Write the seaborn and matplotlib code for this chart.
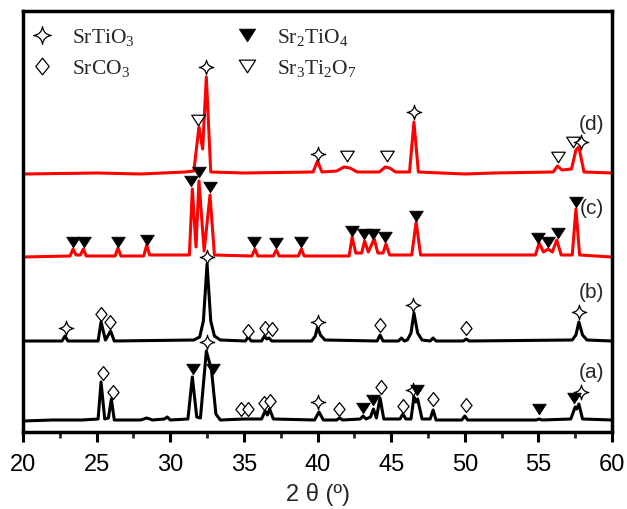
import numpy as np
import pandas as pd
import seaborn as sns
import matplotlib.pyplot as plt
from matplotlib.path import Path
from matplotlib.lines import Line2D

# XRD traces (2theta, intensity above own baseline, arbitrary units)
a_x = [20, 22, 24, 25.1, 25.3, 25.55, 25.8, 26.0, 26.2, 28.0, 28.4, 28.8, 29.6, 29.8, 30.0,
       31.2, 31.5, 31.8, 32.05, 32.45, 32.8, 33.1, 33.4, 35.0, 36.2, 36.45, 36.6, 36.75, 37.0,
       39.8, 40.1, 40.4, 41.3, 41.5, 41.7, 42.9, 43.1, 43.3, 43.6, 43.8, 44.0, 44.25, 44.5,
       45.6, 45.8, 46.0, 46.35, 46.55, 46.68, 46.8, 47.1, 47.65, 47.85, 48.05, 49.8, 50.0, 50.2,
       54.85, 55.05, 55.25, 57.2, 57.5, 57.6, 57.75, 58.0, 60]
a_y = [1, 2, 2, 3, 40, 3, 4, 23, 2, 2, 4, 2, 3, 5, 2,
       3, 45, 5, 4, 71, 52, 8, 2, 3, 3, 11, 7, 13, 3,
       2, 10, 2, 2, 4, 2, 3, 6, 3, 5, 13, 4, 24, 3,
       3, 8, 3, 3, 25, 20, 23, 3, 3, 12, 2, 2, 6, 2,
       2, 3, 2, 3, 15, 13, 18, 3, 2]

b_x = [20, 22.65, 22.85, 23.05, 25.1, 25.3, 25.6, 25.95, 26.2, 31.6, 32.0, 32.25, 32.5, 32.75,
       33.0, 33.4, 35.1, 35.3, 35.5, 36.2, 36.4, 36.55, 36.7, 36.9, 39.6, 39.85, 40.0, 40.2,
       40.5, 44.05, 44.25, 44.45, 45.5, 45.7, 45.9, 46.1, 46.35, 46.55, 46.8, 47.1, 47.65,
       47.85, 48.05, 49.9, 50.1, 50.3, 57.3, 57.55, 57.75, 58.0, 58.3, 60]
b_y = [0, 0, 5, 0, 0, 19, 1, 10, 0, 1, 4, 20, 77, 20,
       5, 1, 0, 4, 0, 0, 5, 2, 3, 0, 0, 5, 14, 6,
       1, 0, 6, 0, 0, 3, 0, 1, 8, 28, 8, 1, 0,
       3, 0, 0, 2, 0, 1, 6, 19, 6, 1, 0]

c_x = [20, 23.2, 23.4, 23.6, 23.9, 24.1, 24.3, 26.25, 26.45, 26.65, 28.2, 28.4, 28.6, 31.3,
       31.5, 31.75, 31.95, 32.3, 32.7, 33.0, 35.55, 35.75, 35.95, 37.0, 37.2, 37.4, 38.7, 38.9,
       39.1, 42.15, 42.35, 42.6, 43.0, 43.2, 43.45, 43.85, 44.1, 44.45, 44.65, 44.9, 46.4, 46.7,
       47.0, 54.8, 55.05, 55.35, 55.65, 55.95, 56.25, 56.55, 57.3, 57.55, 57.8, 60]
c_y = [0, 1, 8, 2, 2, 8, 1, 1, 9, 1, 1, 12, 2, 2,
       68, 10, 76, 6, 62, 2, 1, 8, 1, 1, 7, 1, 1, 8,
       1, 1, 20, 4, 4, 16, 5, 18, 4, 4, 13, 2, 2, 35,
       2, 2, 14, 5, 8, 5, 17, 2, 2, 48, 2, 0]

d_x = [20, 25, 28, 31.0, 31.6, 31.95, 32.2, 32.45, 32.75, 35, 39.7, 40.0, 40.3, 41.3, 41.8,
       42.2, 42.7, 44.2, 44.6, 44.9, 45.3, 46.25, 46.55, 46.85, 50, 52, 56.0, 56.3, 56.6,
       57.25, 57.55, 57.75, 58.1, 60]
d_y = [0, 1, 0, 2, 3, 47, 25, 97, 2, 1, 2, 13, 2, 3, 7,
       6, 2, 2, 7, 6, 2, 2, 52, 2, 0, 1, 2, 8, 4,
       5, 24, 27, 2, 1]

# phase markers: position, height above baseline, phase
a_mx = [25.45, 26.1, 31.55, 32.5, 32.9, 34.8, 35.3, 36.4, 36.8, 40.05, 41.45, 43.1, 43.75,
        44.3, 45.8, 46.5, 46.75, 47.85, 50.1, 55.05, 57.4, 57.9]
a_my = [49, 30, 53, 80, 53, 13, 13, 19, 21, 20, 13, 14, 22, 35, 16, 32, 32, 23, 17, 13, 24, 30]
a_mp = ["C", "C", "T4", "T3", "T4", "C", "C", "C", "C", "T3", "C", "T4", "T4",
        "C", "C", "T3", "T4", "C", "C", "T4", "T4", "T3"]

b_mx = [22.9, 25.3, 25.9, 32.5, 35.3, 36.45, 36.9, 40.0, 44.25, 46.5, 50.1, 57.75]
b_my = [13, 27, 19, 84, 10, 13, 12, 19, 16, 36, 13, 29]
b_mp = ["T3", "C", "C", "T3", "C", "C", "C", "T3", "C", "T3", "C", "T3"]

c_mx = [23.4, 24.15, 26.45, 28.4, 31.4, 31.95, 32.7, 35.7, 37.2, 38.9, 42.35, 43.15, 43.8,
        44.6, 46.7, 55.0, 55.65, 56.3, 57.55]
c_my = [15, 15, 15, 17, 76, 85, 70, 15, 14, 15, 26, 23, 23, 20, 41, 19, 15, 24, 55]
c_mp = ["T4"] * len(c_mx)

d_mx = [32.45, 31.9, 40.0, 42.0, 44.7, 46.55, 56.35, 57.35, 57.9]
d_my = [107, 54, 20, 18, 18, 62, 17, 32, 32]
d_mp = ["T3", "S7", "T3", "S7", "S7", "T3", "S7", "S7", "T3"]

labels = ["(a)", "(b)", "(c)", "(d)"]
phase_names = {"T3": "SrTiO$_3$", "C": "SrCO$_3$", "T4": "Sr$_2$TiO$_4$", "S7": "Sr$_3$Ti$_2$O$_7$"}

offsets = [10, 91, 175, 258]
colors = ["black", "black", "red", "red"]

sns.set_theme(style="ticks")
plt.rcParams["font.family"] = ["Liberation Sans", "DejaVu Sans"]
plt.rcParams["mathtext.fontset"] = "custom"
plt.rcParams["mathtext.rm"] = "Liberation Serif"

C3 = Path.CURVE3
star = Path([(0, 1), (0.12, 0.12), (1, 0), (0.12, -0.12), (0, -1), (-0.12, -0.12),
             (-1, 0), (-0.12, 0.12), (0, 1), (0, 1)],
            [Path.MOVETO, C3, C3, C3, C3, C3, C3, C3, C3, Path.CLOSEPOLY])
diamond = Path([(0, 1), (0.8, 0), (0, -1), (-0.8, 0), (0, 1)],
               [Path.MOVETO, Path.LINETO, Path.LINETO, Path.LINETO, Path.CLOSEPOLY])
tri = Path([(-1, 0.78), (1, 0.78), (0, -0.78), (-1, 0.78)],
           [Path.MOVETO, Path.LINETO, Path.LINETO, Path.CLOSEPOLY])

styles = {
    "T3": dict(marker=star, s=110, color="white", edgecolor="black", linewidth=0.9),
    "C": dict(marker=diamond, s=100, color="white", edgecolor="black", linewidth=0.9),
    "T4": dict(marker=tri, s=95, color="black", edgecolor="black", linewidth=0.6),
    "S7": dict(marker=tri, s=95, color="white", edgecolor="black", linewidth=0.9),
}

fig = plt.figure(figsize=(6.27, 5.10), dpi=100)
ax = fig.add_axes([23 / 627, 77 / 510, 589 / 627, 421 / 510])

traces = [(a_x, a_y), (b_x, b_y), (c_x, c_y), (d_x, d_y)]
marks = [(a_mx, a_my, a_mp), (b_mx, b_my, b_mp), (c_mx, c_my, c_mp), (d_mx, d_my, d_mp)]

for (tx, ty), off, col in zip(traces, offsets, colors):
    sns.lineplot(x=tx, y=np.array(ty) + off, color=col, lw=2.2, estimator=None,
                 sort=False, ax=ax, zorder=2)

for (mx, my, mp), off in zip(marks, offsets):
    mdf = pd.DataFrame({"x": mx, "y": np.array(my) + off, "p": mp})
    for ph, grp in mdf.groupby("p"):
        sns.scatterplot(data=grp, x="x", y="y", ax=ax, zorder=3, legend=False, **styles[ph])

for lab, off in zip(labels, offsets):
    ax.text(58.6, off + 50, lab, ha="center", va="center", fontsize=15)

handles = []
for ph in ["T3", "C", "T4", "S7"]:
    st = styles[ph]
    handles.append(Line2D([], [], linestyle="none", marker=st["marker"],
                          markersize=np.sqrt(st["s"]) * 1.2, markerfacecolor=st["color"],
                          markeredgecolor="black", markeredgewidth=st["linewidth"],
                          label=phase_names[ph]))
leg = ax.legend(handles=handles, ncol=2, loc="upper left", frameon=False,
                prop={"family": "Liberation Serif", "size": 15.5},
                bbox_to_anchor=(-0.012, 1.0), handlelength=1.0, handletextpad=0.9,
                columnspacing=4.7, labelspacing=0.45, borderaxespad=0.3)

ax.set_xlim(20, 60)
ax.set_ylim(0, 421)
ax.set_xticks(np.arange(20, 61, 5))
ax.set_xticks(np.arange(22.5, 60, 5), minor=True)
ax.set_yticks([])
ax.tick_params(axis="x", which="major", direction="out", length=7, width=2.2,
               labelsize=17, pad=8, colors="black")
ax.tick_params(axis="x", which="minor", direction="out", length=4, width=2.0)
for sp in ax.spines.values():
    sp.set_linewidth(2.5)
    sp.set_color("black")
ax.set_xlabel("2 θ (º)", fontsize=17, labelpad=5)
ax.set_ylabel("")

fig.savefig("out.png", dpi=100)
